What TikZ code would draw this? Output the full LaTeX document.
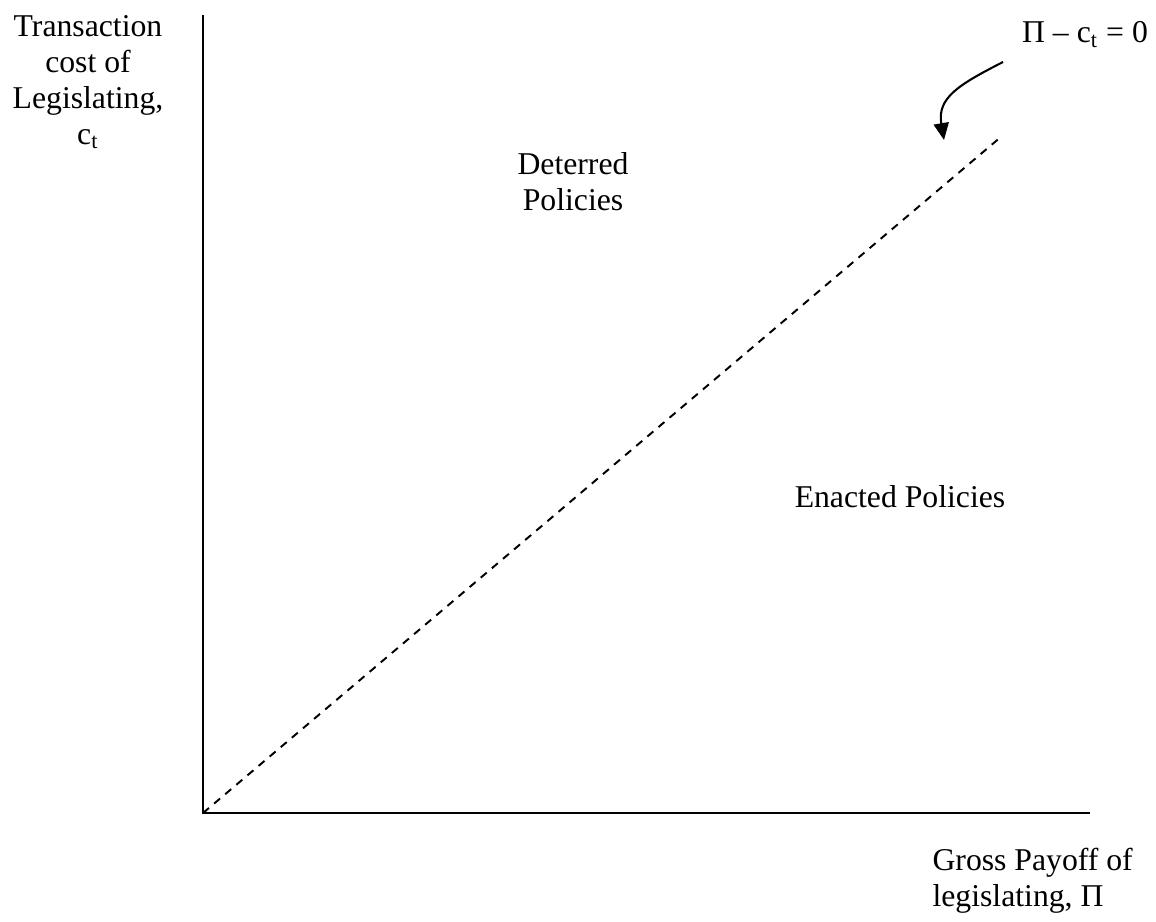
\documentclass[tikz,border=0pt]{standalone}
\usepackage{fontspec}
\setmainfont{Liberation Serif}
\usepackage{tikz}
\usetikzlibrary{arrows.meta}
\tikzset{l/.style={font=\fontsize{12.2}{13.8}\selectfont, inner sep=0pt}}
\tikzset{ax/.style={line width=1pt}}
\tikzset{zero/.style={line width=0.75pt, dash pattern=on 3pt off 2.6pt}}

\begin{document}
\begin{tikzpicture}[x=0.3846pt, y=-0.3846pt]
  \useasboundingbox (0,0) rectangle (1156,921);
  \coordinate (O) at (203,813);
  \coordinate (ytop) at (203,15);
  \coordinate (xend) at (1090,813);
  \coordinate (lineend) at (1002,136);
  \coordinate (pointer) at (1003,62);
  \coordinate (tip) at (944,140);
  \draw [ax] (ytop) -- (O) -- (xend);
  \draw [zero] (O) -- (lineend);
  \draw [line width=0.8pt, -{Triangle[length=6.5pt, width=5.8pt]}]
    (pointer) .. controls (958,85) and (937,98) .. (tip);
  \node (ylabel) [anchor=north, align=center, l] at (88,15)
    {Transaction\\cost of\\Legislating,\\c\textsubscript{t}};
  \node (xlabel) [anchor=north west, align=left, l] at (932,848)
    {Gross Payoff of\\legislating, Π};
  \node (eq) [anchor=base, l] at (1085,43) {Π – c\textsubscript{t} = 0};
  \node (deterred) [anchor=north, align=center, l] at (573,152)
    {Deterred\\Policies};
  \node (enacted) [anchor=base, l] at (900,507) {Enacted Policies};
\end{tikzpicture}
\end{document}
